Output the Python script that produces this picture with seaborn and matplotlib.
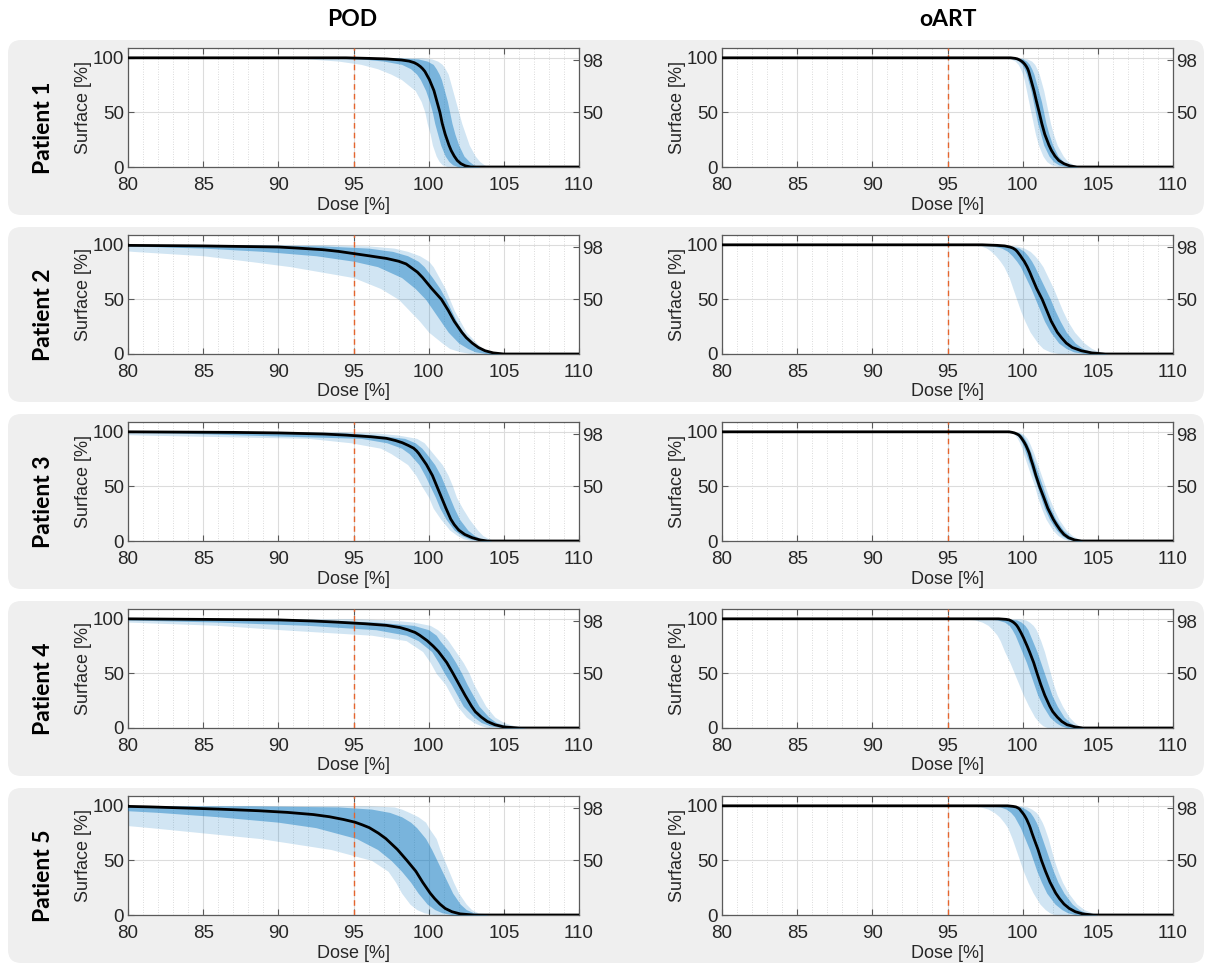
import numpy as np
import matplotlib
matplotlib.use("Agg")
import matplotlib.pyplot as plt
from matplotlib.patches import FancyBboxPatch
from matplotlib.ticker import MultipleLocator
import seaborn as sns

# ---------------- data ----------------
COLUMNS = ["POD", "oART"]
PATIENTS = ["Patient 1", "Patient 2", "Patient 3", "Patient 4", "Patient 5"]
X_TICKS = [80, 85, 90, 95, 100, 105, 110]
Y_TICKS = [0, 50, 100]
Y_TICKS_RIGHT = [50, 98]
REF_DOSE = 95

# surface levels [%] at which the median dose values [%] were read
MED_LEVELS = [100, 99.5, 99, 98, 97, 95.5, 94, 92, 90, 87.5, 85, 82.5, 80, 75, 70, 60, 50, 40, 30, 20, 15, 10, 6, 3, 1, 0]
# surface levels [%] at which the band edge dose values [%] were read
LEVELS = [100, 99, 97, 94, 90, 85, 80, 70, 60, 50, 40, 30, 20, 10, 5, 2, 0]

POD_MED = [
    [94.5, 96, 97.2, 98.2, 98.7, 99.05, 99.25, 99.45, 99.6, 99.75, 99.85, 99.95, 100.05, 100.2, 100.35, 100.55, 100.75, 100.9, 101.1, 101.35, 101.5, 101.7, 101.9, 102.15, 102.45, 102.8],
    [77, 80, 85, 90, 91.3, 93, 94, 95, 96, 97.2, 98, 98.5, 98.75, 99.25, 99.6, 100.2, 100.85, 101.3, 101.7, 102.2, 102.5, 102.9, 103.3, 103.75, 104.3, 105.0],
    [80, 87, 90, 93, 94.5, 96.15, 97.2, 97.8, 98.25, 98.65, 99.0, 99.2, 99.35, 99.6, 99.85, 100.25, 100.55, 100.85, 101.15, 101.47, 101.7, 102.0, 102.4, 102.9, 103.4, 103.9],
    [80, 85, 90, 92.3, 93.85, 95.75, 97.2, 98.1, 98.6, 99.1, 99.4, 99.65, 99.9, 100.3, 100.65, 101.2, 101.62, 102.02, 102.42, 102.85, 103.1, 103.5, 103.9, 104.4, 105.0, 106.0],
    [78.5, 80, 81.5, 83.8, 86, 88.7, 90.6, 92.33, 93.4, 94.33, 95.1, 95.6, 96.05, 96.65, 97.15, 97.92, 98.55, 99.15, 99.6, 100.1, 100.4, 100.75, 101.1, 101.55, 102.1, 103.0],
]
POD_OUT_LO = [
    [88, 92, 94, 95.5, 96.6, 97.5, 98.2, 99.1, 99.5, 99.75, 99.9, 100.1, 100.25, 100.5, 100.7, 100.9, 101.3],
    [70, 76, 78, 80.3, 85, 88, 90.8, 95, 96.8, 98, 98.7, 99.4, 100, 100.9, 101.4, 102.1, 103],
    [70, 76, 81, 92, 94.8, 96.8, 97.5, 98.6, 99.15, 99.55, 100.0, 100.3, 100.8, 101.4, 101.9, 102.3, 103.0],
    [70, 74, 80, 86, 90.2, 96.2, 98.5, 99.6, 100.1, 100.5, 101.1, 101.5, 101.9, 102.5, 103.0, 103.5, 104.0],
    [65, 66, 68, 71, 74, 77.5, 81.5, 88.8, 93.5, 96.2, 97.3, 97.8, 98.2, 98.75, 99.2, 99.7, 100.5],
]
POD_OUT_HI = [
    [99.5, 100.2, 100.6, 100.9, 101.1, 101.3, 101.4, 101.6, 101.8, 102.0, 102.2, 102.45, 102.7, 103.1, 103.4, 103.7, 104.0],
    [93, 96, 97.7, 98.6, 99.4, 100.0, 100.3, 100.7, 101.1, 101.4, 101.7, 102.1, 102.5, 103.2, 103.6, 104.1, 104.8],
    [94, 96.5, 98, 99.2, 99.7, 100.0, 100.3, 100.9, 101.3, 101.6, 101.85, 102.25, 102.7, 103.25, 103.6, 104.0, 104.5],
    [95, 97.5, 99, 100.1, 100.6, 101.0, 101.3, 101.8, 102.3, 102.7, 103.0, 103.4, 103.8, 104.4, 105.0, 105.7, 107.0],
    [96, 97.7, 98.2, 98.7, 99.3, 99.8, 100.0, 100.5, 100.75, 101.05, 101.35, 101.65, 102.0, 102.5, 102.85, 103.3, 104.5],
]
POD_IN_LO = [
    [92, 95.5, 97, 98.2, 98.8, 99.2, 99.45, 99.8, 100.05, 100.25, 100.4, 100.6, 100.8, 101.1, 101.35, 101.6, 102.0],
    [74, 80, 85, 89, 92.5, 95, 96.6, 98.2, 99.1, 99.8, 100.3, 100.8, 101.3, 102.0, 102.6, 103.1, 104.0],
    [75, 83, 88, 95.5, 97.2, 98.2, 98.7, 99.35, 99.75, 100.1, 100.45, 100.75, 101.15, 101.7, 102.2, 102.7, 103.5],
    [75, 80, 86, 92, 96.5, 98.5, 99.3, 100.2, 100.65, 101.05, 101.5, 101.9, 102.3, 103.0, 103.5, 104.1, 105.0],
    [72, 75, 78, 82, 86, 90, 92.5, 95.2, 96.6, 97.5, 98.2, 98.8, 99.3, 99.9, 100.4, 100.9, 101.7],
]
POD_IN_HI = [
    [98, 99.3, 99.9, 100.3, 100.5, 100.7, 100.85, 101.05, 101.25, 101.4, 101.55, 101.75, 102.0, 102.35, 102.7, 103.0, 103.4],
    [88, 93, 96, 97.6, 98.6, 99.3, 99.7, 100.25, 100.75, 101.15, 101.5, 101.85, 102.3, 102.95, 103.5, 104.0, 104.8],
    [90, 94.5, 96.5, 98.4, 99.1, 99.55, 99.85, 100.4, 100.8, 101.1, 101.4, 101.7, 102.05, 102.6, 103.05, 103.5, 104.2],
    [90, 93, 96.5, 99.0, 100.0, 100.5, 100.75, 101.35, 101.8, 102.2, 102.55, 102.95, 103.35, 104.0, 104.5, 105.2, 106.5],
    [88, 94, 96.2, 97.4, 98.2, 98.8, 99.2, 99.8, 100.2, 100.55, 100.9, 101.25, 101.6, 102.1, 102.5, 103.0, 104.0],
]

OART_MED = [
    [99.2, 99.5, 99.65, 99.8, 99.92, 100.05, 100.15, 100.25, 100.33, 100.4, 100.45, 100.5, 100.55, 100.65, 100.75, 100.92, 101.1, 101.27, 101.47, 101.75, 101.92, 102.15, 102.4, 102.75, 103.15, 103.6],
    [97.3, 98.3, 98.8, 99.15, 99.35, 99.52, 99.63, 99.74, 99.85, 99.97, 100.1, 100.2, 100.3, 100.47, 100.62, 100.93, 101.3, 101.6, 101.9, 102.3, 102.58, 102.9, 103.3, 103.9, 104.6, 105.5],
    [99.1, 99.3, 99.45, 99.62, 99.75, 99.85, 99.93, 100.03, 100.12, 100.22, 100.3, 100.38, 100.45, 100.55, 100.67, 100.88, 101.12, 101.4, 101.67, 102.03, 102.25, 102.5, 102.75, 103.05, 103.45, 103.9],
    [98.4, 98.9, 99.1, 99.25, 99.37, 99.5, 99.6, 99.7, 99.78, 99.88, 99.97, 100.06, 100.14, 100.3, 100.45, 100.73, 100.96, 101.2, 101.47, 101.8, 102.0, 102.3, 102.6, 102.95, 103.5, 104.0],
    [99.0, 99.35, 99.55, 99.7, 99.8, 99.88, 99.97, 100.08, 100.17, 100.27, 100.35, 100.43, 100.5, 100.62, 100.75, 101.02, 101.25, 101.52, 101.82, 102.2, 102.45, 102.75, 103.1, 103.5, 104.0, 104.7],
]
OART_OUT_LO = [
    [98.5, 99.2, 99.5, 99.7, 99.85, 100.0, 100.1, 100.25, 100.4, 100.55, 100.7, 100.85, 101.05, 101.35, 101.6, 101.9, 102.5],
    [96.5, 97.2, 97.6, 97.9, 98.2, 98.5, 98.75, 99.1, 99.35, 99.6, 99.85, 100.15, 100.5, 101.0, 101.35, 101.8, 102.5],
    [98.9, 99.3, 99.5, 99.65, 99.8, 99.95, 100.05, 100.3, 100.55, 100.8, 101.0, 101.25, 101.55, 102.0, 102.35, 102.7, 103.2],
    [96.0, 96.8, 97.3, 97.7, 98.0, 98.3, 98.5, 98.8, 99.15, 99.45, 99.75, 100.05, 100.4, 100.8, 101.1, 101.35, 101.7],
    [96.3, 97.2, 97.7, 98.1, 98.45, 98.75, 99.0, 99.3, 99.55, 99.8, 100.05, 100.35, 100.7, 101.15, 101.5, 101.8, 102.2],
]
OART_OUT_HI = [
    [99.9, 100.3, 100.6, 100.8, 100.95, 101.1, 101.2, 101.4, 101.55, 101.7, 101.85, 102.05, 102.3, 102.7, 103.0, 103.4, 104.0],
    [98.5, 99.6, 100.1, 100.5, 100.8, 101.1, 101.35, 101.7, 102.05, 102.35, 102.65, 103.0, 103.45, 104.1, 104.6, 105.1, 106.0],
    [99.5, 99.9, 100.1, 100.3, 100.45, 100.6, 100.75, 101.0, 101.25, 101.5, 101.75, 102.05, 102.4, 102.9, 103.3, 103.7, 104.3],
    [99.8, 100.2, 100.45, 100.7, 100.9, 101.05, 101.2, 101.45, 101.65, 101.85, 102.05, 102.3, 102.65, 103.1, 103.45, 103.75, 104.3],
    [99.8, 100.3, 100.6, 100.9, 101.1, 101.3, 101.45, 101.7, 101.9, 102.1, 102.35, 102.65, 103.05, 103.6, 104.1, 104.6, 105.3],
]
OART_IN_LO = [
    [99.0, 99.5, 99.75, 99.95, 100.1, 100.25, 100.35, 100.55, 100.7, 100.85, 101.0, 101.2, 101.4, 101.75, 102.05, 102.4, 103.0],
    [96.8, 98.0, 98.6, 99.0, 99.3, 99.6, 99.85, 100.2, 100.55, 100.85, 101.15, 101.45, 101.85, 102.4, 102.9, 103.4, 104.3],
    [99.05, 99.45, 99.65, 99.8, 99.95, 100.1, 100.22, 100.48, 100.72, 100.97, 101.2, 101.45, 101.78, 102.25, 102.6, 102.95, 103.5],
    [97.5, 98.3, 98.8, 99.1, 99.3, 99.5, 99.65, 99.95, 100.25, 100.5, 100.75, 101.0, 101.35, 101.8, 102.2, 102.55, 103.0],
    [97.5, 98.5, 98.9, 99.2, 99.45, 99.65, 99.85, 100.15, 100.45, 100.7, 100.95, 101.25, 101.6, 102.15, 102.6, 103.0, 103.6],
]
OART_IN_HI = [
    [99.6, 100.0, 100.25, 100.45, 100.6, 100.75, 100.85, 101.05, 101.25, 101.4, 101.55, 101.75, 102.0, 102.35, 102.7, 103.1, 103.7],
    [97.8, 99.2, 99.75, 100.1, 100.35, 100.6, 100.8, 101.15, 101.5, 101.85, 102.15, 102.5, 102.9, 103.5, 104.0, 104.6, 105.7],
    [99.35, 99.75, 99.95, 100.12, 100.28, 100.43, 100.58, 100.83, 101.08, 101.33, 101.58, 101.85, 102.2, 102.7, 103.1, 103.45, 104.0],
    [99.0, 99.6, 99.9, 100.15, 100.35, 100.5, 100.65, 100.95, 101.2, 101.45, 101.7, 101.95, 102.3, 102.75, 103.15, 103.5, 104.1],
    [99.4, 99.9, 100.2, 100.5, 100.7, 100.9, 101.05, 101.3, 101.55, 101.8, 102.05, 102.35, 102.75, 103.3, 103.75, 104.2, 105.0],
]

SERIES = {
    "POD": (POD_MED, POD_OUT_LO, POD_OUT_HI, POD_IN_LO, POD_IN_HI),
    "oART": (OART_MED, OART_OUT_LO, OART_OUT_HI, OART_IN_LO, OART_IN_HI),
}

# ---------------- style ----------------
sns.set_theme(style="white")
plt.rcParams['font.family'] = ['Liberation Sans', 'DejaVu Sans']
BLUE = "#0072BD"
TXT = "#262626"
SPINE = "#5a5a5a"
RED = "#E5652E"
LABEL_FONT = ["Lato", "DejaVu Sans"]

W, H = 1208, 964
fig = plt.figure(figsize=(W / 100, H / 100), dpi=100)
fig.patch.set_facecolor("white")

ROW_STEP = 187
for r in range(5):
    top = 40 + r * ROW_STEP
    box = FancyBboxPatch((8 / W, 1 - (top + 175) / H), 1196 / W, 175 / H,
                         boxstyle="round,pad=0,rounding_size=0.011",
                         mutation_aspect=W / H,
                         transform=fig.transFigure, fc="#efefef", ec="none", zorder=-5)
    fig.patches.append(box)
    fig.text(44 / W, 1 - (top + 88) / H, PATIENTS[r], rotation=90, ha="center", va="center",
             fontsize=16.5, fontweight="bold", family=LABEL_FONT, color="black")

fig.text(352 / W, 1 - 19 / H, COLUMNS[0], ha="center", va="center", fontsize=16.5,
         fontweight="bold", family=LABEL_FONT, color="black")
fig.text(948 / W, 1 - 19 / H, COLUMNS[1], ha="center", va="center", fontsize=16.5,
         fontweight="bold", family=LABEL_FONT, color="black")

X0 = [128, 722]
AX_W, AX_H = 451, 119
for r in range(5):
    for c, col in enumerate(COLUMNS):
        med, olo, ohi, ilo, ihi = (s[r] for s in SERIES[col])
        top = 48 + r * ROW_STEP
        ax = fig.add_axes([X0[c] / W, 1 - (top + AX_H) / H, AX_W / W, AX_H / H])
        ax.set_facecolor("white")
        ax.set_axisbelow(True)

        ax.fill_betweenx(LEVELS, olo, ohi, color=BLUE, alpha=0.18, lw=0, zorder=2)
        ax.fill_betweenx(LEVELS, ilo, ihi, color=BLUE, alpha=0.42, lw=0, zorder=3)
        ax.axvline(REF_DOSE, color=RED, ls=(0, (4, 3)), lw=1.0, zorder=4)
        sns.lineplot(x=[X_TICKS[0]] + med + [X_TICKS[-1]],
                     y=[MED_LEVELS[0]] + MED_LEVELS + [MED_LEVELS[-1]],
                     sort=False, estimator=None, color="black", lw=2.0, ax=ax, zorder=5)

        ax.set_xlim(X_TICKS[0], X_TICKS[-1])
        ax.set_ylim(0, 109)
        ax.set_xticks(X_TICKS)
        ax.set_yticks(Y_TICKS)
        ax.xaxis.set_minor_locator(MultipleLocator(1))
        ax.grid(which="major", axis="both", color="#dcdcdc", lw=0.8, ls="-")
        ax.grid(which="minor", axis="x", color="#cfcfcf", lw=0.6, ls=(0, (1, 2)))
        ax.tick_params(which="major", direction="in", length=4, width=0.8, color=SPINE,
                       bottom=True, top=True, left=True, right=False,
                       labelsize=13.5, labelcolor=TXT, pad=2)
        ax.tick_params(axis="x", which="major", pad=7)
        ax.tick_params(axis="y", which="major", pad=3)
        ax.tick_params(which="minor", length=0)
        for s in ax.spines.values():
            s.set_color(SPINE)
            s.set_linewidth(0.9)
            s.set_visible(True)
        ax.set_xlabel("Dose [%]", fontsize=13, color=TXT, labelpad=2)
        ax.set_ylabel("Surface [%]", fontsize=13, color=TXT, labelpad=0)

        ax2 = ax.twinx()
        ax2.set_ylim(ax.get_ylim())
        ax2.set_yticks(Y_TICKS_RIGHT)
        ax2.tick_params(direction="in", length=4, width=0.8, color=SPINE, right=True,
                        labelsize=13.5, labelcolor=TXT, pad=2)
        ax2.grid(False)
        for s in ax2.spines.values():
            s.set_visible(False)

fig.savefig("out.png", dpi=100, facecolor="white")
